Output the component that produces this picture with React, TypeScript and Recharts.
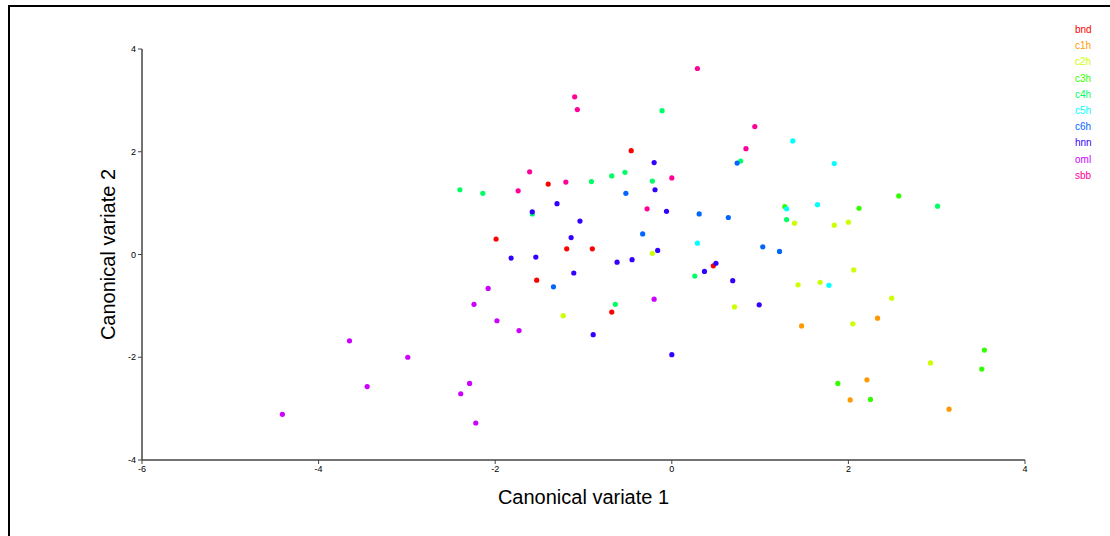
import { ScatterChart, Scatter, XAxis, YAxis } from 'recharts';

const groups = ['bnd', 'c1h', 'c2h', 'c3h', 'c4h', 'c5h', 'c6h', 'hnn', 'oml', 'sbb'];
const colors = ['#FF0000', '#FF9900', '#CCFF00', '#33FF00', '#00FF66', '#00FFFF', '#0066FF', '#3300FF', '#CC00FF', '#FF0099'];

const xTicks = [-6, -4, -2, 0, 2, 4];
const yTicks = [-4, -2, 0, 2, 4];

// [canonical variate 1, canonical variate 2]
const bnd = [[-0.46, 2.02], [-1.4, 1.37], [-1.99, 0.3], [-1.19, 0.11], [-0.9, 0.11], [0.47, -0.22], [-1.53, -0.5], [-0.68, -1.12]];
const c1h = [[2.33, -1.24], [1.47, -1.39], [2.21, -2.44], [2.02, -2.83], [3.14, -3.01]];
const c2h = [[-0.22, 0.02], [1.39, 0.61], [1.84, 0.57], [2.0, 0.63], [2.06, -0.3], [1.43, -0.59], [1.68, -0.54], [2.49, -0.85], [0.71, -1.02], [2.05, -1.35], [2.93, -2.11], [-1.23, -1.19]];
const c3h = [[2.57, 1.14], [1.28, 0.93], [2.12, 0.9], [3.54, -1.86], [3.51, -2.23], [1.88, -2.51], [2.25, -2.82]];
const c4h = [[-2.4, 1.26], [-2.14, 1.19], [-1.58, 0.79], [-0.91, 1.42], [-0.68, 1.53], [-0.53, 1.6], [-0.22, 1.43], [-0.11, 2.8], [0.78, 1.82], [1.3, 0.68], [3.01, 0.94], [0.26, -0.42], [-0.64, -0.97]];
const c5h = [[1.37, 2.21], [1.84, 1.77], [1.3, 0.89], [1.65, 0.97], [0.29, 0.22], [1.78, -0.6]];
const c6h = [[0.74, 1.78], [-0.52, 1.19], [0.31, 0.79], [0.64, 0.72], [-0.33, 0.4], [1.03, 0.15], [1.22, 0.06], [-1.34, -0.63]];
const hnn = [[-0.2, 1.79], [-0.19, 1.26], [-1.3, 0.99], [-1.58, 0.83], [-0.06, 0.84], [-1.04, 0.65], [-1.14, 0.33], [-0.16, 0.08], [-1.82, -0.07], [-1.54, -0.05], [-0.62, -0.15], [-0.45, -0.1], [0.5, -0.17], [0.37, -0.33], [0.69, -0.51], [-1.11, -0.36], [0.99, -0.98], [-0.89, -1.56], [0.0, -1.95]];
const oml = [[-2.08, -0.66], [-2.24, -0.97], [-1.98, -1.29], [-1.73, -1.48], [-0.2, -0.87], [-3.65, -1.68], [-2.99, -2.0], [-3.45, -2.57], [-4.41, -3.11], [-2.29, -2.51], [-2.39, -2.71], [-2.22, -3.28]];
const sbb = [[0.29, 3.62], [-1.1, 3.07], [-1.07, 2.82], [-1.61, 1.61], [0.0, 1.49], [-1.2, 1.41], [-1.74, 1.24], [-0.28, 0.89], [0.94, 2.49], [0.84, 2.06]];

const series = [bnd, c1h, c2h, c3h, c4h, c5h, c6h, hnn, oml, sbb];

const font = 'Liberation Sans, Arial, sans-serif';
const tickStyle = { fontSize: 9, fill: '#000', fontFamily: font };

const Dot = (props: any) => <circle cx={props.cx} cy={props.cy} r={2.6} fill={props.fill} />;

export default function App() {
  return (
    <div style={{ position: 'absolute', left: 0, top: 0, width: 1110, height: 536, background: '#fff', overflow: 'hidden' }}>
      <div style={{ position: 'absolute', left: 8, top: 5, width: 1200, height: 600, borderLeft: '2px solid #000', borderTop: '2px solid #000' }} />
      <div style={{ position: 'absolute', left: 1075, top: 22, fontFamily: font, fontSize: 10 }}>
        {groups.map((g, i) => (
          <div key={g} style={{ color: colors[i], height: 16.2, lineHeight: '16.2px' }}>{g}</div>
        ))}
      </div>
      <ScatterChart width={1110} height={536} margin={{ top: 49, right: 85, bottom: 46, left: 112 }} style={{ position: 'absolute', left: 0, top: 0 }}>
        <XAxis
          type="number"
          dataKey="x"
          domain={[-6, 4]}
          ticks={xTicks}
          tick={tickStyle}
          tickSize={4}
          tickMargin={2}
          height={30}
          stroke="#444"
          axisLine={{ stroke: '#444', strokeWidth: 1.5 }}
          label={{ value: 'Canonical variate 1', position: 'bottom', offset: 0, style: { fontSize: 20, fill: '#000', fontFamily: font } }}
        />
        <YAxis
          type="number"
          dataKey="y"
          domain={[-4, 4]}
          ticks={yTicks}
          tick={tickStyle}
          tickSize={4}
          tickMargin={2}
          width={30}
          stroke="#444"
          axisLine={{ stroke: '#444', strokeWidth: 1.5 }}
          label={{ value: 'Canonical variate 2', angle: -90, position: 'left', offset: 4, style: { fontSize: 20, fill: '#000', textAnchor: 'middle', fontFamily: font } }}
        />
        {groups.map((g, i) => (
          <Scatter
            key={g}
            name={g}
            data={series[i].map(([x, y]) => ({ x, y }))}
            fill={colors[i]}
            shape={Dot}
            isAnimationActive={false}
          />
        ))}
      </ScatterChart>
    </div>
  );
}
